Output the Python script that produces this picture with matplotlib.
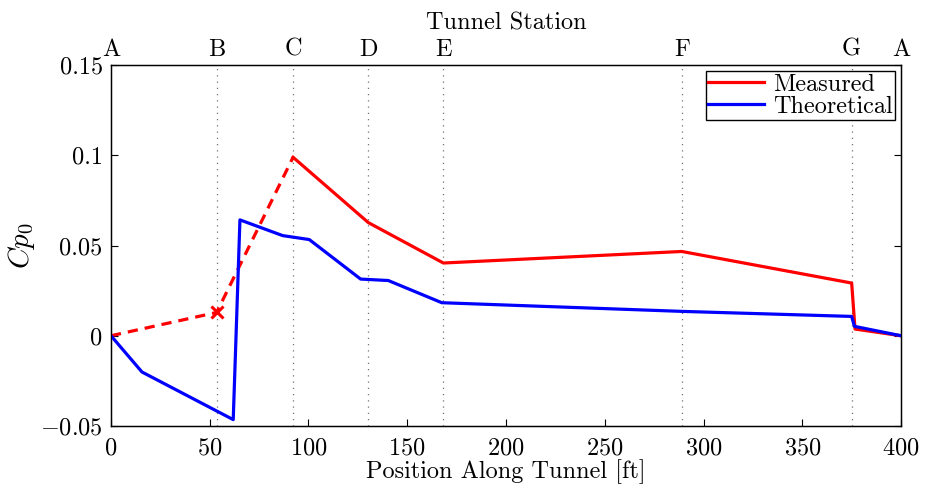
import numpy as np
import matplotlib
matplotlib.use("Agg")
import matplotlib.pyplot as plt

plt.rcParams['font.family'] = 'serif'
plt.rcParams['font.serif'] = ['cmr10', 'DejaVu Serif']
plt.rcParams['mathtext.fontset'] = 'cm'
plt.rcParams['axes.formatter.use_mathtext'] = True
plt.rcParams['axes.unicode_minus'] = True

# tunnel stations along the loop [ft]
station_names = ["A", "B", "C", "D", "E", "F", "G", "A"]
station_pos = [0, 53.5, 92.2, 130.3, 168.3, 289.0, 375.0, 400]

# measured Cp0: extrapolated part (dashed) and measured part (solid)
meas_dash_x = [0, 53.5, 92.2]
meas_dash_y = [0.0, 0.0129, 0.0989]
meas_x = [92.2, 130.3, 168.3, 289.0, 375.0, 376.7, 400]
meas_y = [0.0989, 0.0627, 0.0403, 0.0467, 0.0292, 0.0037, 0.0]

# theoretical Cp0
theo_x = [0, 15.7, 61.9, 65.3, 86.9, 100.4, 126.4, 140.4, 167.5, 289.0, 375.0, 376.4, 400]
theo_y = [0.0, -0.0201, -0.0465, 0.0642, 0.0555, 0.0533, 0.0314, 0.0306, 0.0183,
          0.0135, 0.0107, 0.0052, 0.0]

fs = 17.5

fig = plt.figure(figsize=(9.27, 4.93), dpi=100)
ax = fig.add_axes([0.1197, 0.136, 0.8523, 0.732])

for xs in station_pos[1:-1]:
    ax.axvline(xs, color='0.45', linestyle=(0, (1, 4)), linewidth=0.9, zorder=1)

ax.plot(meas_dash_x, meas_dash_y, color='red', linewidth=2.3, linestyle=(0, (3.2, 2.2)), zorder=3)
ax.plot(meas_dash_x[1], meas_dash_y[1], marker='x', color='red', markersize=9,
        markeredgewidth=2.2, zorder=4)
ax.plot(meas_x, meas_y, color='red', linewidth=2.3, label='Measured', zorder=3)
ax.plot(theo_x, theo_y, color='blue', linewidth=2.3, label='Theoretical', zorder=3)

ax.set_xlim(0, 400)
ax.set_ylim(-0.05, 0.15)
ax.set_xticks(np.arange(0, 401, 50))
ax.set_yticks([-0.05, 0, 0.05, 0.1, 0.15])
ax.set_yticklabels([r'$-0.05$', '0', '0.05', '0.1', '0.15'])
ax.tick_params(direction='in', top=True, right=True, labelsize=fs, length=5, width=0.8, pad=6)
ax.tick_params(axis='x', pad=8)
ax.set_xlabel('Position Along Tunnel [ft]', fontsize=fs, labelpad=0)
ax.set_ylabel(r'$Cp_0$', fontsize=21, labelpad=2)
for sp in ax.spines.values():
    sp.set_linewidth(1.0)

leg = ax.legend(loc='upper right', fontsize=fs, fancybox=False, framealpha=1,
                edgecolor='black', handlelength=2.3, handletextpad=0.35,
                borderpad=0.1, labelspacing=0.0, borderaxespad=0.25)
leg.get_frame().set_linewidth(1.0)

top = ax.twiny()
top.set_xlim(ax.get_xlim())
top.set_xticks(station_pos)
top.set_xticklabels(station_names)
top.tick_params(length=0, labelsize=fs, pad=3)
top.set_xlabel('Tunnel Station', fontsize=fs, labelpad=7)

fig.savefig('out.png', dpi=100)
